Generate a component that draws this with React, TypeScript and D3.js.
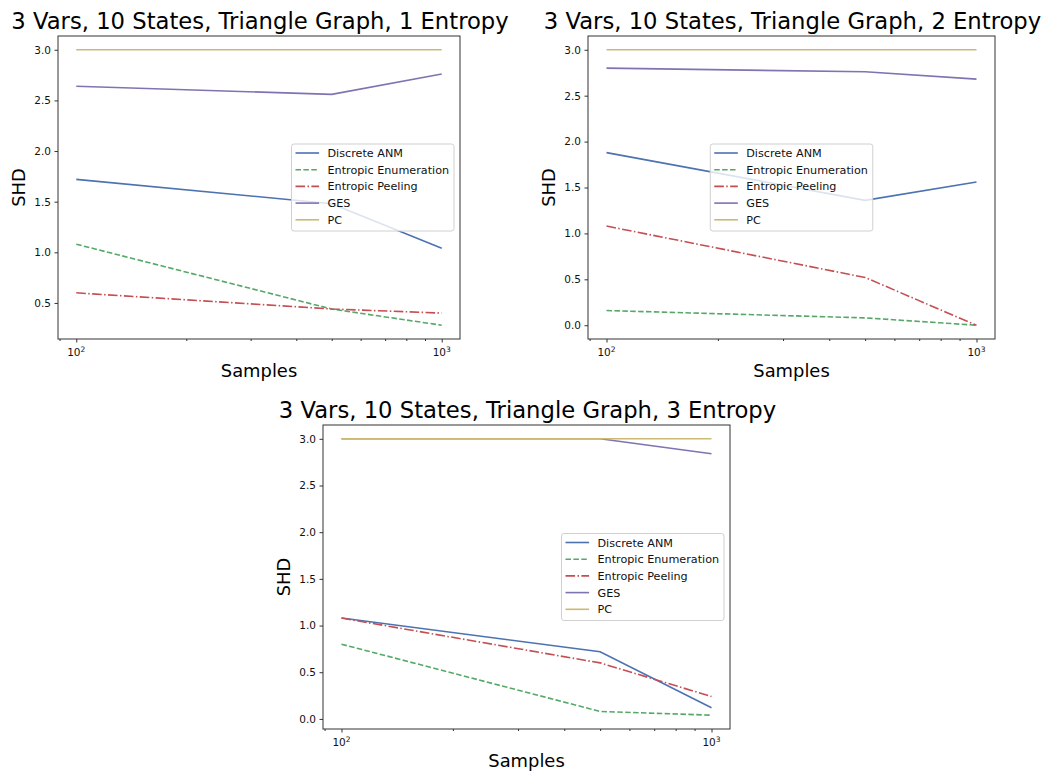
import { useEffect, useRef } from 'react'
import * as d3 from 'd3'

// x values (number of samples), log scale
const samples = [100, 500, 1000]
const methods = ['Discrete ANM', 'Entropic Enumeration', 'Entropic Peeling', 'GES', 'PC']
const colors = ['#4C72B0', '#55A868', '#C44E52', '#8172B2', '#CCB974']
const dashes = [null, '5.5,2.4', '9.6,2.4,1.5,2.4', null, null]

// SHD per method, rows follow the order of `methods`
const shdEntropy1 = [
  [1.72, 1.48, 1.04],
  [1.08, 0.44, 0.28],
  [0.6, 0.44, 0.4],
  [2.64, 2.56, 2.76],
  [3.0, 3.0, 3.0],
]
const shdEntropy2 = [
  [1.88, 1.36, 1.56],
  [0.16, 0.08, 0.0],
  [1.08, 0.52, 0.0],
  [2.8, 2.76, 2.68],
  [3.0, 3.0, 3.0],
]
const shdEntropy3 = [
  [1.08, 0.72, 0.12],
  [0.8, 0.08, 0.04],
  [1.08, 0.6, 0.24],
  [3.0, 3.0, 2.84],
  [3.0, 3.0, 3.0],
]

const titles = [
  '3 Vars, 10 States, Triangle Graph, 1 Entropy',
  '3 Vars, 10 States, Triangle Graph, 2 Entropy',
  '3 Vars, 10 States, Triangle Graph, 3 Entropy',
]
const xMajorTicks = [100, 1000]
const xMinorTicks = [90, 200, 300, 400, 500, 600, 700, 800, 900]
const yTicks = [0, 0.5, 1.0, 1.5, 2.0, 2.5, 3.0]

const WIDTH = 1048
const HEIGHT = 772
const FONT = 'DejaVu Sans, sans-serif'

// subplot boxes (pixels) and legend placement
const panels = [
  { title: titles[0], data: shdEntropy1, left: 58, top: 36, right: 460, bottom: 339, legend: 'right' },
  { title: titles[1], data: shdEntropy2, left: 588, top: 36, right: 995, bottom: 339, legend: 'center' },
  { title: titles[2], data: shdEntropy3, left: 323, top: 425, right: 730, bottom: 729, legend: 'right' },
]

const drawPanel = (root, p) => {
  const g = root.append('g')
  const { left, top, right, bottom } = p

  // matplotlib style 5% margins
  const lx = [Math.log10(d3.min(samples)), Math.log10(d3.max(samples))]
  const padX = (lx[1] - lx[0]) * 0.05
  const x = d3.scaleLog()
    .domain([10 ** (lx[0] - padX), 10 ** (lx[1] + padX)])
    .range([left, right])

  const [ymin, ymax] = d3.extent(p.data.flat())
  const padY = (ymax - ymin) * 0.05
  const y = d3.scaleLinear()
    .domain([ymin - padY, ymax + padY])
    .range([bottom, top])
  const [d0, d1] = y.domain()

  // lines
  const line = d3.line()
    .x((d, i) => x(samples[i]))
    .y(d => y(d))

  g.append('g')
      .attr('fill', 'none')
    .selectAll('path')
    .data(p.data)
    .join('path')
      .attr('d', d => line(d))
      .attr('stroke', (d, i) => colors[i])
      .attr('stroke-width', 1.6)
      .attr('stroke-dasharray', (d, i) => dashes[i])

  // y axis
  g.append('g')
      .attr('transform', `translate(${left},0)`)
      .call(d3.axisLeft(y)
        .tickValues(yTicks.filter(t => t >= d0 && t <= d1))
        .tickFormat(d3.format('.1f'))
        .tickSize(3.5)
        .tickPadding(3.5))
      .call(a => a.select('.domain').remove())
      .call(a => a.selectAll('text').attr('font-size', 10.5).attr('font-family', FONT).attr('fill', '#111'))
      .call(a => a.selectAll('line').attr('stroke', '#333'))

  // x axis: minor then major ticks
  g.append('g')
      .attr('transform', `translate(0,${bottom})`)
      .call(d3.axisBottom(x).tickValues(xMinorTicks).tickFormat(() => '').tickSize(2))
      .call(a => a.select('.domain').remove())
      .call(a => a.selectAll('line').attr('stroke', '#333'))

  g.append('g')
      .attr('transform', `translate(0,${bottom})`)
      .call(d3.axisBottom(x).tickValues(xMajorTicks).tickFormat(() => '').tickSize(3.5))
      .call(a => a.select('.domain').remove())
      .call(a => a.selectAll('line').attr('stroke', '#333'))

  const xl = g.append('g')
    .selectAll('text')
    .data(xMajorTicks)
    .join('text')
      .attr('x', d => x(d))
      .attr('y', bottom + 17)
      .attr('text-anchor', 'middle')
      .attr('font-family', FONT)
      .attr('font-size', 10.5)
      .attr('fill', '#111')
  xl.append('tspan').text('10')
  xl.append('tspan')
      .attr('dy', -4.5)
      .attr('font-size', 7.5)
      .text(d => String(Math.round(Math.log10(d))))

  // spines
  g.append('rect')
      .attr('x', left)
      .attr('y', top)
      .attr('width', right - left)
      .attr('height', bottom - top)
      .attr('fill', 'none')
      .attr('stroke', '#333')
      .attr('stroke-width', 1)

  // title and axis labels
  g.append('text')
      .attr('x', (left + right) / 2 + 1)
      .attr('y', top - 7)
      .attr('text-anchor', 'middle')
      .attr('font-family', FONT)
      .attr('font-size', 22.7)
      .text(p.title)

  g.append('text')
      .attr('x', (left + right) / 2)
      .attr('y', bottom + 38)
      .attr('text-anchor', 'middle')
      .attr('font-family', FONT)
      .attr('font-size', 17.9)
      .text('Samples')

  g.append('text')
      .attr('transform', `translate(${left - 33},${(top + bottom) / 2}) rotate(-90)`)
      .attr('text-anchor', 'middle')
      .attr('font-family', FONT)
      .attr('font-size', 17.9)
      .text('SHD')

  // legend
  const lw = 162.5
  const lh = 87
  const lxPos = p.legend === 'right' ? right - 6 - lw : (left + right) / 2 - lw / 2
  const lyPos = (top + bottom) / 2 - lh / 2
  const lg = g.append('g').attr('transform', `translate(${lxPos},${lyPos})`)
  lg.append('rect')
      .attr('width', lw)
      .attr('height', lh)
      .attr('rx', 2.5)
      .attr('fill', 'white')
      .attr('fill-opacity', 0.8)
      .attr('stroke', '#d0d0d0')
      .attr('stroke-width', 1)

  const rows = lg.selectAll('g')
    .data(methods)
    .join('g')
      .attr('transform', (d, i) => `translate(0,${9 + i * 16.7})`)
  rows.append('line')
      .attr('x1', 4)
      .attr('x2', 27.6)
      .attr('stroke', (d, i) => colors[i])
      .attr('stroke-width', 1.6)
      .attr('stroke-dasharray', (d, i) => dashes[i])
  rows.append('text')
      .attr('x', 36)
      .attr('dy', '0.36em')
      .attr('font-family', FONT)
      .attr('font-size', 11.2)
      .attr('fill', '#111')
      .text(d => d)
}

const App = () => {
  const svgRef = useRef(null)

  useEffect(() => {
    const svg = d3.select(svgRef.current)
    svg.selectAll('*').remove()
    svg.append('rect').attr('width', WIDTH).attr('height', HEIGHT).attr('fill', 'white')
    panels.forEach(p => drawPanel(svg, p))
  }, [])

  return (
    <svg
      ref={svgRef}
      width={WIDTH}
      height={HEIGHT}
      viewBox={`0 0 ${WIDTH} ${HEIGHT}`}
      style={{ position: 'absolute', left: 0, top: 0, display: 'block' }}
    />
  )
}

export default App
